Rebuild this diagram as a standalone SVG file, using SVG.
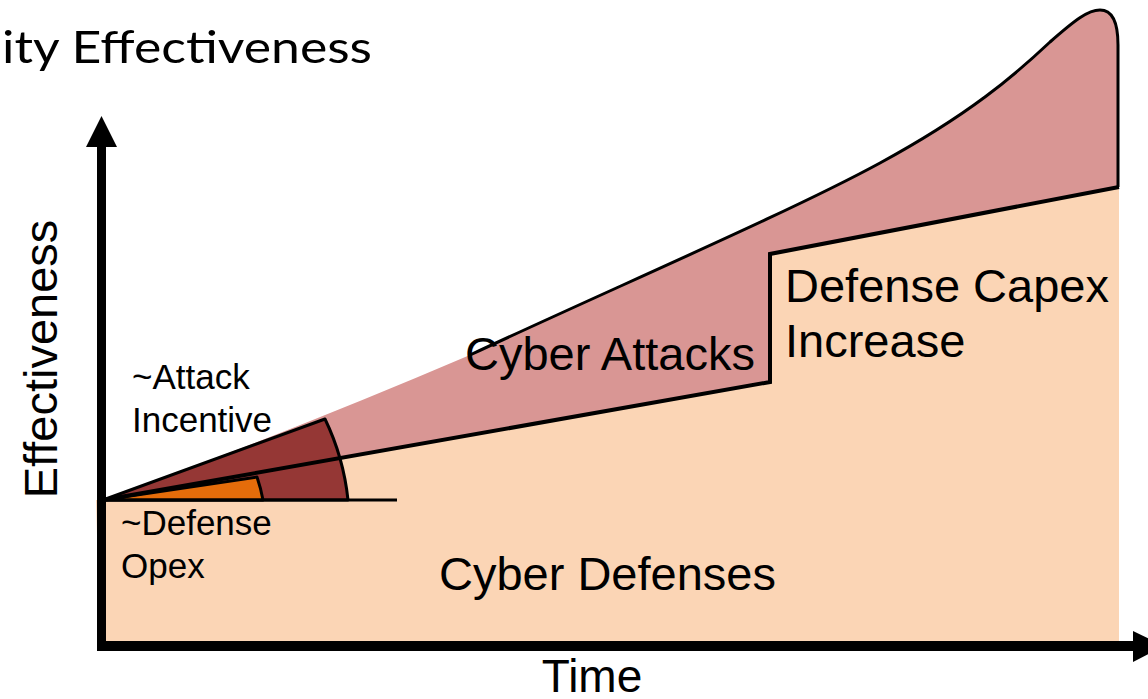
<svg xmlns="http://www.w3.org/2000/svg" width="1148" height="699" viewBox="0 0 1148 699">
<style>
.lbl{font-family:"Liberation Sans",Arial,sans-serif;fill:#000}
.big{font-size:47px}
.small{font-size:35px}
.title{font-family:Lato,"Open Sans","Liberation Sans",sans-serif;font-size:45px;fill:#000}
.edge{fill:none;stroke:#000;stroke-linejoin:miter}
</style>
<rect width="1148" height="699" fill="#fff"/>
<g id="cyber-defenses">
<path d="M96,500 L103,500 L770,382 L770,254 L1119,187 L1119,641 L100,641 Z" fill="#FBD5B5"/>
</g>
<g id="cyber-attacks">
<path d="M103,500 Q290,432 470,355 C620,285 790,212 880,163 S1015,75 1050,42 C1075,20 1088,10 1100,10 C1112,10 1118,22 1118,45 L1118,187 L770,254 L770,382 Z" fill="#D99694"/>
</g>
<g id="attack-incentive">
<path d="M103,500 L325,419 A245,245 0 0 1 348,500 Z" fill="#953735" stroke="#000" stroke-width="3" stroke-linejoin="round"/>
</g>
<g id="defense-opex">
<path d="M103,500 L257,477 A160,160 0 0 1 263,500 Z" fill="#E46C0A" stroke="#000" stroke-width="3" stroke-linejoin="round"/>
</g>
<g id="connectors">
<path class="edge" d="M103,500 L397,500" stroke-width="3"/>
<path class="edge" d="M103,500 L770,382 L770,254 L1119,187" stroke-width="4"/>
<path class="edge" d="M470,355 C620,285 790,212 880,163 S1015,75 1050,42 C1075,20 1088,10 1100,10 C1112,10 1118,22 1118,45 L1118,187" stroke-width="3"/>
</g>
<g id="y-axis">
<rect x="97" y="145" width="9" height="506" fill="#000"/>
<polygon points="86,147 117,147 101.5,116" fill="#000"/>
</g>
<g id="x-axis">
<rect x="97" y="641" width="1038" height="10" fill="#000"/>
<polygon points="1133,631 1133,662 1164,646" fill="#000"/>
</g>
<text class="title" x="2" y="63" textLength="370" lengthAdjust="spacingAndGlyphs">ity Effectiveness</text>
<text class="lbl big" transform="translate(57,359) rotate(-90)" text-anchor="middle">Effectiveness</text>
<text class="lbl" x="592" y="692" font-size="46" text-anchor="middle">Time</text>
<text class="lbl big" x="465" y="370">Cyber Attacks</text>
<text class="lbl big" x="439" y="590">Cyber Defenses</text>
<text class="lbl big" x="785" y="302">Defense Capex</text>
<text class="lbl big" x="785" y="357">Increase</text>
<text class="lbl small" x="132" y="389">~Attack</text>
<text class="lbl small" x="132" y="432">Incentive</text>
<text class="lbl small" x="121" y="535">~Defense</text>
<text class="lbl small" x="121" y="578">Opex</text>
</svg>
